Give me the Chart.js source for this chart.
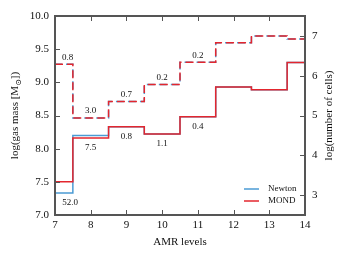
<!DOCTYPE html>
<html>
<head>
<meta charset="utf-8">
<script src="https://cdn.jsdelivr.net/npm/chart.js@4"></script>
<style>
  html, body { margin: 0; padding: 0; background: #fff; }
  #wrap { width: 346px; height: 260px; }
</style>
</head>
<body>
<div id="wrap"><canvas id="chart"></canvas></div>
<script>
// AMR level on the x axis
const levels = [7, 8, 9, 10, 11, 12, 13, 14];

// log gas mass (left axis)
const massNewton = [7.33, 8.20, 8.33, 8.22, 8.48, 8.93, 8.89, 9.30];
const massMond = [7.50, 8.16, 8.33, 8.22, 8.48, 8.93, 8.89, 9.30];

// log number of cells (right axis)
const cellsNewton = [6.29, 4.94, 5.35, 5.78, 6.34, 6.83, 7.00, 6.92];
const cellsMond = [6.29, 4.94, 5.35, 5.78, 6.34, 6.83, 7.00, 6.92];

// percent differences written next to the steps
const cellNotes = ['0.8', '3.0', '0.7', '0.2', '0.2'];
const cellNoteLevels = [7.35, 8, 9, 10, 11];
const massNotes = ['52.0', '7.5', '0.8', '1.1', '0.4'];
const massNoteLevels = [7.42, 8, 9, 10, 11];

const rightTicks = [3, 4, 5, 6, 7];

const BLUE = '#4b9bd4';
const RED = '#e3262e';
const FRAME = '#555555';
const INK = '#111';
const SERIF = '"Liberation Serif", "DejaVu Serif", serif';

function points(ys) {
  return levels.map((x, i) => ({ x: x, y: ys[i] }));
}

/**
 * Draws the box, inward ticks, the notes, the legend and the two y titles.
 */
const decorPlugin = {
  id: 'decor',
  afterDatasetsDraw(chart) {
    const ctx = chart.ctx;
    const { left, right, top, bottom } = chart.chartArea;
    const x = chart.scales.x;
    const yL = chart.scales.yMass;
    const yR = chart.scales.yCells;
    ctx.save();

    // notes above the dashed steps and below the solid ones
    ctx.fillStyle = INK;
    ctx.font = '9px ' + SERIF;
    ctx.textAlign = 'center';
    ctx.textBaseline = 'middle';
    cellNotes.forEach((t, i) => {
      const lv = cellNoteLevels[i];
      const idx = levels.indexOf(Math.round(lv));
      ctx.fillText(t, x.getPixelForValue(lv), yR.getPixelForValue(cellsMond[idx]) - 7);
    });
    massNotes.forEach((t, i) => {
      const lv = massNoteLevels[i];
      const idx = levels.indexOf(Math.round(lv));
      const v = Math.min(massNewton[idx], massMond[idx]);
      ctx.fillText(t, x.getPixelForValue(lv), yL.getPixelForValue(v) + 10);
    });

    // frame
    ctx.strokeStyle = FRAME;
    ctx.lineWidth = 2;
    ctx.strokeRect(left, top, right - left, bottom - top);

    // inward ticks
    ctx.lineWidth = 1;
    ctx.beginPath();
    x.ticks.forEach(t => {
      const px = Math.round(x.getPixelForValue(t.value)) + 0.5;
      ctx.moveTo(px, bottom); ctx.lineTo(px, bottom - 5);
      ctx.moveTo(px, top); ctx.lineTo(px, top + 5);
    });
    yL.ticks.forEach(t => {
      const py = Math.round(yL.getPixelForValue(t.value)) + 0.5;
      ctx.moveTo(left, py); ctx.lineTo(left + 5, py);
    });
    yR.ticks.forEach(t => {
      const py = Math.round(yR.getPixelForValue(t.value)) + 0.5;
      ctx.moveTo(right, py); ctx.lineTo(right - 5, py);
    });
    ctx.stroke();

    // legend, lower right inside the plot
    const items = [chart.data.datasets[0], chart.data.datasets[1]];
    ctx.font = '9px ' + SERIF;
    ctx.textAlign = 'left';
    ctx.lineWidth = 1.5;
    items.forEach((ds, i) => {
      const ly = bottom - 26 + i * 12;
      ctx.strokeStyle = ds.borderColor;
      ctx.beginPath();
      ctx.moveTo(right - 61, ly); ctx.lineTo(right - 46, ly);
      ctx.stroke();
      ctx.fillStyle = INK;
      ctx.fillText(ds.label, right - 37, ly);
    });

    // left title with a subscript sun symbol
    const midY = (top + bottom) / 2;
    ctx.fillStyle = INK;
    ctx.textBaseline = 'alphabetic';
    ctx.save();
    ctx.translate(18, midY);
    ctx.rotate(-Math.PI / 2);
    const big = '11px ' + SERIF;
    const small = '8px ' + SERIF;
    const parts = [['log(gas mass [M', big, 0], ['\u2299', small, 2.5], ['])', big, 0]];
    let total = 0;
    parts.forEach(p => { ctx.font = p[1]; total += ctx.measureText(p[0]).width; });
    let cx = -total / 2;
    parts.forEach(p => {
      ctx.font = p[1];
      ctx.fillText(p[0], cx, p[2]);
      cx += ctx.measureText(p[0]).width;
    });
    ctx.restore();

    // right title reads bottom to top
    ctx.save();
    ctx.translate(332, midY);
    ctx.rotate(-Math.PI / 2);
    ctx.font = '11px ' + SERIF;
    ctx.textAlign = 'center';
    ctx.fillText('log(number of cells)', 0, 0);
    ctx.restore();

    ctx.restore();
  }
};

new Chart(document.getElementById('chart'), {
  type: 'line',
  data: {
    datasets: [{
      label: 'Newton',
      data: points(massNewton),
      borderColor: BLUE,
      borderWidth: 1.5,
      stepped: 'middle',
      pointRadius: 0,
      order: 4,
      yAxisID: 'yMass'
    }, {
      label: 'MOND',
      data: points(massMond),
      borderColor: RED,
      borderWidth: 1.5,
      stepped: 'middle',
      pointRadius: 0,
      order: 3,
      yAxisID: 'yMass'
    }, {
      label: 'Newton cells',
      data: points(cellsNewton),
      borderColor: BLUE,
      borderWidth: 1.5,
      borderDash: [8, 4],
      borderDashOffset: 1,
      stepped: 'middle',
      pointRadius: 0,
      order: 2,
      yAxisID: 'yCells'
    }, {
      label: 'MOND cells',
      data: points(cellsMond),
      borderColor: RED,
      borderWidth: 1.5,
      borderDash: [8, 4],
      stepped: 'middle',
      pointRadius: 0,
      order: 1,
      yAxisID: 'yCells'
    }]
  },
  options: {
    responsive: true,
    maintainAspectRatio: false,
    animation: false,
    layout: { padding: { top: 16, left: 0, right: 0, bottom: 0 } },
    plugins: {
      legend: { display: false },
      tooltip: { enabled: false }
    },
    scales: {
      x: {
        type: 'linear',
        min: 7,
        max: 14,
        grid: { display: false, drawTicks: false },
        border: { display: false },
        ticks: {
          stepSize: 1,
          padding: 4,
          color: INK,
          font: { family: SERIF, size: 11 }
        },
        title: {
          display: true,
          text: 'AMR levels',
          color: INK,
          font: { family: SERIF, size: 11 },
          padding: { top: 0, bottom: 11 }
        },
        afterFit(scale) { scale.height = 45; }
      },
      yMass: {
        position: 'left',
        min: 7,
        max: 10,
        grid: { display: false, drawTicks: false },
        border: { display: false },
        ticks: {
          stepSize: 0.5,
          padding: 6,
          color: INK,
          font: { family: SERIF, size: 11 },
          callback: v => v.toFixed(1)
        },
        afterFit(scale) { scale.width = 55; }
      },
      yCells: {
        position: 'right',
        min: 2.5,
        max: 7.5,
        grid: { display: false, drawTicks: false },
        border: { display: false },
        ticks: {
          padding: 7,
          color: INK,
          font: { family: SERIF, size: 11 }
        },
        afterBuildTicks(scale) {
          scale.ticks = rightTicks.map(v => ({ value: v }));
        },
        afterFit(scale) { scale.width = 41; }
      }
    }
  },
  plugins: [decorPlugin]
});
</script>
</body>
</html>
